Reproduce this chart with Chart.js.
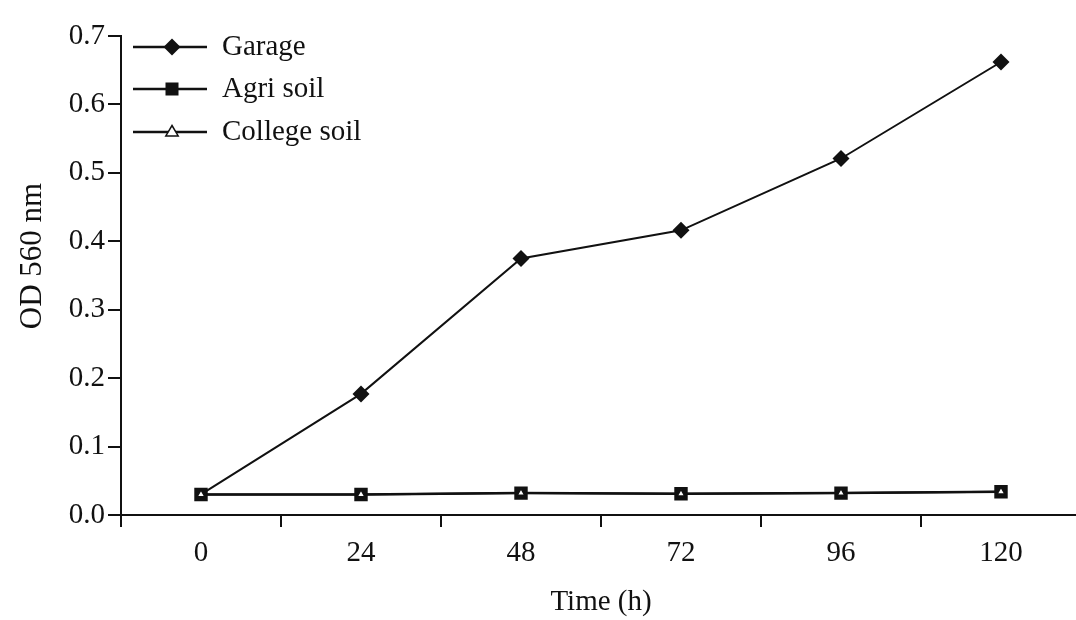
<!DOCTYPE html>
<html>
<head>
<meta charset="utf-8">
<script src="https://cdn.jsdelivr.net/npm/chart.js@4/dist/chart.umd.min.js"></script>
<style>
  html, body { margin: 0; padding: 0; background: #fff; overflow: hidden; }
  #wrap { width: 1100px; height: 620px; }
</style>
</head>
<body>
<div id="wrap"><canvas id="c" width="1100" height="620"></canvas></div>
<script>
const timeLabels = ['0', '24', '48', '72', '96', '120'];
const garage = [0.030, 0.177, 0.375, 0.416, 0.521, 0.662];
const agriSoil = [0.030, 0.030, 0.032, 0.031, 0.032, 0.034];
const collegeSoil = [0.030, 0.030, 0.032, 0.031, 0.032, 0.034];
const seriesNames = ['Garage', 'Agri soil', 'College soil'];
const yTitle = 'OD 560 nm';
const xTitle = 'Time (h)';

const FONT = '"Liberation Serif", "Times New Roman", serif';
const INK = '#111';

function drawMarker(ctx, kind, x, y) {
  ctx.save();
  ctx.lineWidth = 1.5;
  ctx.strokeStyle = INK;
  ctx.fillStyle = INK;
  if (kind === 'diamond') {
    const r = 8.5;
    ctx.beginPath();
    ctx.moveTo(x, y - r); ctx.lineTo(x + r, y); ctx.lineTo(x, y + r); ctx.lineTo(x - r, y);
    ctx.closePath(); ctx.fill();
  } else if (kind === 'square') {
    const s = 6.5;
    ctx.fillRect(x - s, y - s, 2 * s, 2 * s);
  } else {
    const r = 6.5;
    ctx.fillStyle = '#fff';
    ctx.beginPath();
    ctx.moveTo(x, y - r); ctx.lineTo(x + r * 0.95, y + r * 0.6); ctx.lineTo(x - r * 0.95, y + r * 0.6);
    ctx.closePath(); ctx.fill(); ctx.stroke();
  }
  ctx.restore();
}

const customDecor = {
  id: 'customDecor',
  afterDraw(chart) {
    const ctx = chart.ctx;
    const rows = [47, 89, 132];
    const kinds = ['diamond', 'square', 'triangle'];
    ctx.save();
    seriesNames.forEach((name, i) => {
      const y = rows[i];
      ctx.strokeStyle = INK;
      ctx.lineWidth = 2.5;
      ctx.beginPath(); ctx.moveTo(133, y); ctx.lineTo(207, y); ctx.stroke();
      drawMarker(ctx, kinds[i], 172, y);
      ctx.fillStyle = INK;
      ctx.font = '29px ' + FONT;
      ctx.textAlign = 'left';
      ctx.textBaseline = 'middle';
      ctx.fillText(name, 222, y);
    });
    // y axis title
    ctx.translate(33, 256);
    ctx.rotate(-Math.PI / 2);
    ctx.textAlign = 'center';
    ctx.textBaseline = 'middle';
    ctx.font = '31px ' + FONT;
    ctx.fillStyle = INK;
    ctx.fillText(yTitle, 0, 0);
    ctx.restore();
  }
};

new Chart(document.getElementById('c'), {
  type: 'line',
  data: {
    labels: timeLabels,
    datasets: [
      {
        label: seriesNames[0], data: garage, order: 3,
        borderColor: INK, borderWidth: 2, backgroundColor: INK,
        pointStyle: 'rectRot', pointRadius: [5, 8.5, 8.5, 8.5, 8.5, 8.5], pointBorderWidth: 0,
        tension: 0
      },
      {
        label: seriesNames[1], data: agriSoil, order: 2,
        borderColor: INK, borderWidth: 2.5, backgroundColor: INK,
        pointStyle: 'rect', pointRadius: 9.5, pointBorderWidth: 0,
        tension: 0
      },
      {
        label: seriesNames[2], data: collegeSoil, order: 1,
        borderColor: INK, borderWidth: 2, backgroundColor: '#fff',
        pointBackgroundColor: '#fff', pointBorderColor: INK,
        pointStyle: 'triangle', pointRadius: 4.5, pointBorderWidth: 1.5,
        tension: 0
      }
    ]
  },
  options: {
    responsive: false,
    animation: false,
    devicePixelRatio: 1,
    layout: { padding: { left: 0, right: 19, top: 36, bottom: 0 } },
    plugins: { legend: { display: false }, tooltip: { enabled: false } },
    scales: {
      x: {
        type: 'category',
        offset: true,
        grid: { offset: true, drawOnChartArea: false, drawTicks: true, tickLength: 12, color: INK, lineWidth: 2 },
        border: { display: true, color: INK, width: 2 },
        ticks: { color: INK, font: { family: FONT, size: 29 }, padding: 9, maxRotation: 0 },
        title: { display: true, text: xTitle, color: INK, font: { family: FONT, size: 29 }, padding: { top: 0, bottom: 0 } },
        afterFit(scale) { scale.height = 105; }
      },
      y: {
        min: 0, max: 0.7,
        grid: { drawOnChartArea: false, drawTicks: true, tickLength: 13, color: INK, lineWidth: 2 },
        border: { display: true, color: INK, width: 2 },
        ticks: { stepSize: 0.1, color: INK, font: { family: FONT, size: 29 }, padding: 3,
                 callback: v => Number(v).toFixed(1) },
        afterFit(scale) { scale.width = 121; }
      }
    }
  },
  plugins: [customDecor]
});
</script>
</body>
</html>
